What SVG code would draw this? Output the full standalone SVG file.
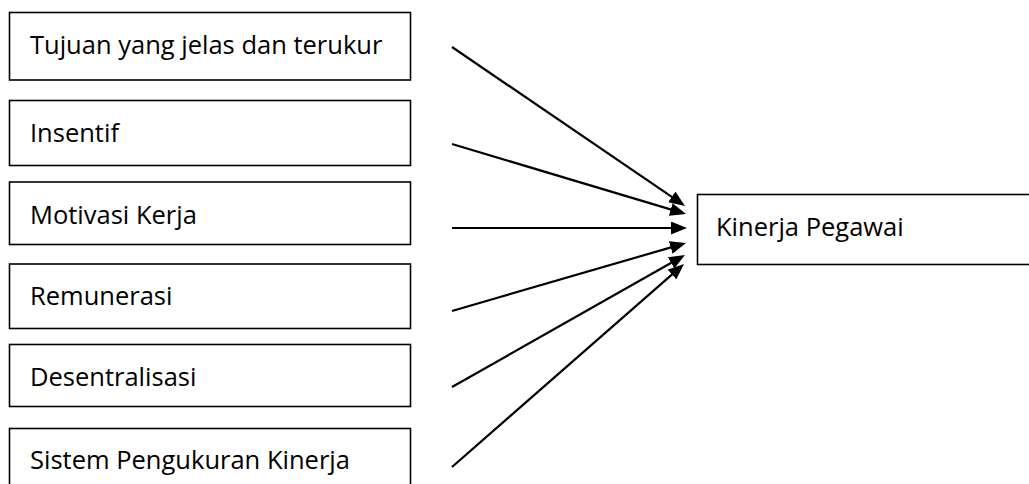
<svg xmlns="http://www.w3.org/2000/svg" width="1029" height="484" viewBox="0 0 1029 484">
<style>
.box{fill:#fff;stroke:#000;stroke-width:1.6}
.lbl{font-family:"Open Sans","Noto Sans",sans-serif;font-size:25.5px;fill:#000;font-variant-ligatures:none}
.conn{stroke:#000;stroke-width:2.2;fill:none;marker-end:url(#ah)}
</style>
<defs>
<marker id="ah" viewBox="0 0 16 13" refX="12" refY="6.5" markerWidth="16" markerHeight="13" markerUnits="userSpaceOnUse" orient="auto">
<path d="M0,0 L16,6.5 L0,13 z" fill="#000"/>
</marker>
</defs>
<rect width="1029" height="484" fill="#fff"/>
<g id="n1"><rect class="box" x="9.5" y="12.5" width="401" height="67.5"/><text class="lbl" x="30" y="54">Tujuan yang jelas dan terukur</text></g>
<g id="n2"><rect class="box" x="9.5" y="100.5" width="401" height="65"/><text class="lbl" x="30" y="142">Insentif</text></g>
<g id="n3"><rect class="box" x="9.5" y="182" width="401" height="62.5"/><text class="lbl" x="30" y="223.5">Motivasi Kerja</text></g>
<g id="n4"><rect class="box" x="9.5" y="264" width="401" height="64.5"/><text class="lbl" x="30" y="305">Remunerasi</text></g>
<g id="n5"><rect class="box" x="9.5" y="344.5" width="401" height="62"/><text class="lbl" x="30" y="385.5">Desentralisasi</text></g>
<g id="n6"><rect class="box" x="9.5" y="428.5" width="401" height="70"/><text class="lbl" x="30" y="469">Sistem Pengukuran Kinerja</text></g>
<g id="n7"><rect class="box" x="697.5" y="194.5" width="340" height="70"/><text class="lbl" x="716" y="235.5">Kinerja Pegawai</text></g>
<g id="connectors">
<line class="conn" x1="452" y1="47" x2="681.7" y2="203.7"/>
<line class="conn" x1="452" y1="144" x2="682.2" y2="212.9"/>
<line class="conn" x1="452" y1="228" x2="683" y2="228"/>
<line class="conn" x1="452" y1="311" x2="682.2" y2="244.1"/>
<line class="conn" x1="452" y1="387" x2="681.5" y2="257"/>
<line class="conn" x1="452" y1="467" x2="681" y2="266.6"/>
</g>
</svg>
